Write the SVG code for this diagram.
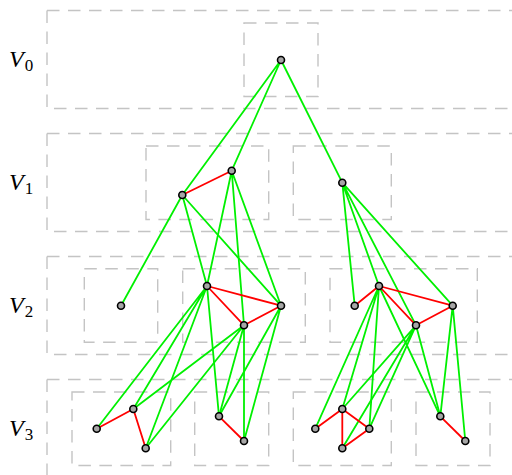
<svg xmlns="http://www.w3.org/2000/svg" width="512" height="475" viewBox="0 0 512 475">
<style>
.box{fill:none;stroke:#c4c4c4;stroke-width:1.4;stroke-dasharray:12.5 8.5}
.g{stroke:#00f000;stroke-width:1.8;fill:none}
.r{stroke:#ff0000;stroke-width:1.8;fill:none}
.n{fill:#a6a6a6;stroke:#000;stroke-width:1.6}
.lbl{font-family:"Liberation Serif",serif;font-style:italic;font-size:24px;fill:#000}
.sub{font-style:normal;font-size:17px}
</style>
<rect width="512" height="475" fill="#fff"/>
<g id="levels">
<path class="box" d="M47,10.5 V108.5 H530 M47,10.5 H530"/>
<path class="box" d="M47,133.5 V231.5 H530 M47,133.5 H530"/>
<path class="box" d="M47,256.5 V354.5 H530 M47,256.5 H530"/>
<path class="box" d="M47,379.5 V477.5 H530 M47,379.5 H530"/>
</g>
<g id="groups">
<rect class="box" x="244" y="23" width="74" height="73.5"/>
<rect class="box" x="146" y="146" width="122.7" height="73.5"/>
<rect class="box" x="293.3" y="146" width="98" height="73.5"/>
<rect class="box" x="84.3" y="268.7" width="73.4" height="73.5"/>
<rect class="box" x="182.7" y="268.7" width="122.6" height="73.5"/>
<rect class="box" x="330" y="268.7" width="147.3" height="73.5"/>
<rect class="box" x="72" y="392" width="98.7" height="73.5"/>
<rect class="box" x="194.7" y="392" width="74" height="73.5"/>
<rect class="box" x="293.3" y="392" width="98" height="73.5"/>
<rect class="box" x="416" y="392" width="74" height="73.5"/>
</g>
<g id="labels">
<text class="lbl" x="9" y="67">V<tspan class="sub" dx="1" dy="4">0</tspan></text>
<text class="lbl" x="9" y="190">V<tspan class="sub" dx="1" dy="4">1</tspan></text>
<text class="lbl" x="9" y="313">V<tspan class="sub" dx="1" dy="4">2</tspan></text>
<text class="lbl" x="9" y="436">V<tspan class="sub" dx="1" dy="4">3</tspan></text>
</g>
<g id="connectors">
<g class="g">
<path d="M281,60 L182.3,195 M281,60 L231.7,170.7 M281,60 L342.3,182.7"/>
<path d="M182.3,195 L121,305.7 M182.3,195 L207,286 M182.3,195 L281,305.7"/>
<path d="M231.7,170.7 L207,286 M231.7,170.7 L244,325.3 M231.7,170.7 L281,305.7"/>
<path d="M342.3,182.7 L354.7,305.7 M342.3,182.7 L379,286 M342.3,182.7 L416,325.3 M342.3,182.7 L452.7,305.7"/>
<path d="M207,286 L96.7,428.7 M207,286 L133.3,409 M207,286 L145.7,448.3 M207,286 L219,416.3"/>
<path d="M244,325.3 L133.3,409 M244,325.3 L145.7,448.3 M244,325.3 L219,416.3 M244,325.3 L244,441"/>
<path d="M281,305.7 L219,416.3 M281,305.7 L244,441"/>
<path d="M379,286 L315.3,428.7 M379,286 L342.3,409 M379,286 L369.3,428.7 M379,286 L440.3,416.3"/>
<path d="M416,325.3 L342.3,409 M416,325.3 L342.3,448.3 M416,325.3 L369.3,428.7 M416,325.3 L440.3,416.3"/>
<path d="M452.7,305.7 L440.3,416.3 M452.7,305.7 L465.3,441"/>
</g>
<g class="r">
<path d="M182.3,195 L231.7,170.7"/>
<path d="M207,286 L281,305.7 M207,286 L244,325.3 M244,325.3 L281,305.7"/>
<path d="M354.7,305.7 L379,286 M379,286 L452.7,305.7 M379,286 L416,325.3 M416,325.3 L452.7,305.7"/>
<path d="M96.7,428.7 L133.3,409 M133.3,409 L145.7,448.3"/>
<path d="M219,416.3 L244,441"/>
<path d="M315.3,428.7 L342.3,409 M342.3,409 L369.3,428.7 M342.3,409 L342.3,448.3 M342.3,448.3 L369.3,428.7"/>
<path d="M440.3,416.3 L465.3,441"/>
</g>
</g>
<g id="nodes">
<g id="v0"><circle class="n" cx="281" cy="60" r="3.5"/></g>
<g id="v1a"><circle class="n" cx="182.3" cy="195" r="3.5"/></g>
<g id="v1b"><circle class="n" cx="231.7" cy="170.7" r="3.5"/></g>
<g id="v1c"><circle class="n" cx="342.3" cy="182.7" r="3.5"/></g>
<g id="v2a"><circle class="n" cx="121" cy="305.7" r="3.5"/></g>
<g id="v2b"><circle class="n" cx="207" cy="286" r="3.5"/></g>
<g id="v2c"><circle class="n" cx="281" cy="305.7" r="3.5"/></g>
<g id="v2d"><circle class="n" cx="244" cy="325.3" r="3.5"/></g>
<g id="v2e"><circle class="n" cx="354.7" cy="305.7" r="3.5"/></g>
<g id="v2f"><circle class="n" cx="379" cy="286" r="3.5"/></g>
<g id="v2g"><circle class="n" cx="452.7" cy="305.7" r="3.5"/></g>
<g id="v2h"><circle class="n" cx="416" cy="325.3" r="3.5"/></g>
<g id="v3a"><circle class="n" cx="96.7" cy="428.7" r="3.5"/></g>
<g id="v3b"><circle class="n" cx="133.3" cy="409" r="3.5"/></g>
<g id="v3c"><circle class="n" cx="145.7" cy="448.3" r="3.5"/></g>
<g id="v3d"><circle class="n" cx="219" cy="416.3" r="3.5"/></g>
<g id="v3e"><circle class="n" cx="244" cy="441" r="3.5"/></g>
<g id="v3f"><circle class="n" cx="315.3" cy="428.7" r="3.5"/></g>
<g id="v3g"><circle class="n" cx="342.3" cy="409" r="3.5"/></g>
<g id="v3h"><circle class="n" cx="369.3" cy="428.7" r="3.5"/></g>
<g id="v3i"><circle class="n" cx="342.3" cy="448.3" r="3.5"/></g>
<g id="v3j"><circle class="n" cx="440.3" cy="416.3" r="3.5"/></g>
<g id="v3k"><circle class="n" cx="465.3" cy="441" r="3.5"/></g>
</g>
</svg>
